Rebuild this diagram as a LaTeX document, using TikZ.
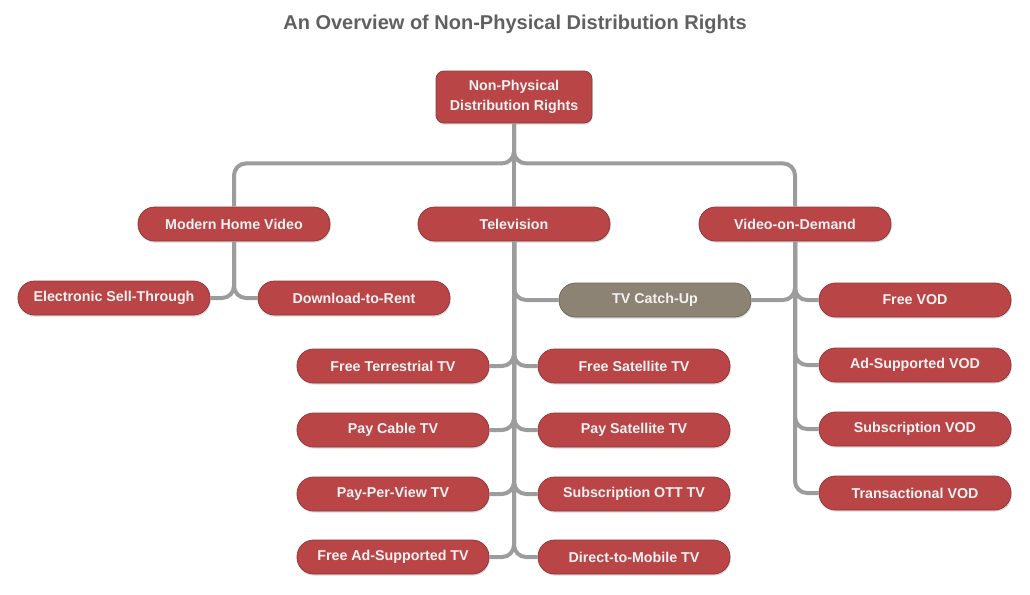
\documentclass[tikz,border=0pt]{standalone}
\usepackage{fontspec}
\setmainfont{Liberation Sans}
\usetikzlibrary{shadows}

\definecolor{boxred}{HTML}{B94547}
\definecolor{boxgray}{HTML}{8C8374}
\definecolor{linegray}{HTML}{9C9C9C}
\definecolor{titlegray}{HTML}{606060}

\begin{document}
\begin{tikzpicture}[x=0.75pt,y=-0.75pt,
  box/.style={fill=boxred, draw=boxred!80!black, line width=0.6pt, text=white!95!black,
    font=\bfseries\fontsize{10.7}{15}\selectfont, inner sep=0pt,
    drop shadow={shadow xshift=0.5pt, shadow yshift=-1.2pt, opacity=0.3}},
  leaf/.style={box, rounded corners=12.5pt, minimum width=144pt, minimum height=25.5pt},
  catchup/.style={leaf, fill=boxgray, draw=boxgray!80!black},
  conn/.style={draw=linegray, line width=3pt, rounded corners=9pt}]
\useasboundingbox (0,0) rectangle (1030,594);

\node[text=titlegray, font=\bfseries\fontsize{15}{18}\selectfont] (title) at (515,24) {An Overview of Non-Physical Distribution Rights};

\node[box, rounded corners=6pt, minimum width=117pt, minimum height=39pt, align=center] (root) at (514,97) {Non-Physical\\Distribution Rights};

\node[leaf] (mhv) at (234,224) {Modern Home Video};
\node[leaf] (tv) at (514,224) {Television};
\node[leaf] (vod) at (795,224) {Video-on-Demand};

\node[leaf] (est) at (114,298) {Electronic Sell-Through};
\node[leaf] (dtr) at (354,298) {Download-to-Rent};

\node[catchup] (catch) at (655,300) {TV Catch-Up};

\node[leaf] (fterr) at (393,366) {Free Terrestrial TV};
\node[leaf] (cable) at (393,430) {Pay Cable TV};
\node[leaf] (ppv) at (393,494) {Pay-Per-View TV};
\node[leaf] (fast) at (393,557) {Free Ad-Supported TV};
\node[leaf] (fsat) at (634,366) {Free Satellite TV};
\node[leaf] (psat) at (634,430) {Pay Satellite TV};
\node[leaf] (ott) at (634,494) {Subscription OTT TV};
\node[leaf] (mobile) at (634,557) {Direct-to-Mobile TV};

\node[leaf] (fvod) at (915,300) {Free VOD};
\node[leaf] (avod) at (915,365) {Ad-Supported VOD};
\node[leaf] (svod) at (915,429) {Subscription VOD};
\node[leaf] (tvod) at (915,493) {Transactional VOD};

% top level
\path[conn] (root.south) -- ++(0,40) -| (mhv.north);
\path[conn] (root.south) -- (tv.north);
\path[conn] (root.south) -- ++(0,40) -| (vod.north);

% home video
\path[conn] (mhv.south) |- (est.east);
\path[conn] (mhv.south) |- (dtr.west);

% television
\path[conn] (tv.south) |- (catch.west);
\path[conn] (tv.south) |- (fterr.east);
\path[conn] (tv.south) |- (cable.east);
\path[conn] (tv.south) |- (ppv.east);
\path[conn] (tv.south) |- (fast.east);
\path[conn] (tv.south) |- (fsat.west);
\path[conn] (tv.south) |- (psat.west);
\path[conn] (tv.south) |- (ott.west);
\path[conn] (tv.south) |- (mobile.west);

% video on demand
\path[conn] (vod.south) |- (catch.east);
\path[conn] (vod.south) |- (fvod.west);
\path[conn] (vod.south) |- (avod.west);
\path[conn] (vod.south) |- (svod.west);
\path[conn] (vod.south) |- (tvod.west);
\end{tikzpicture}
\end{document}
